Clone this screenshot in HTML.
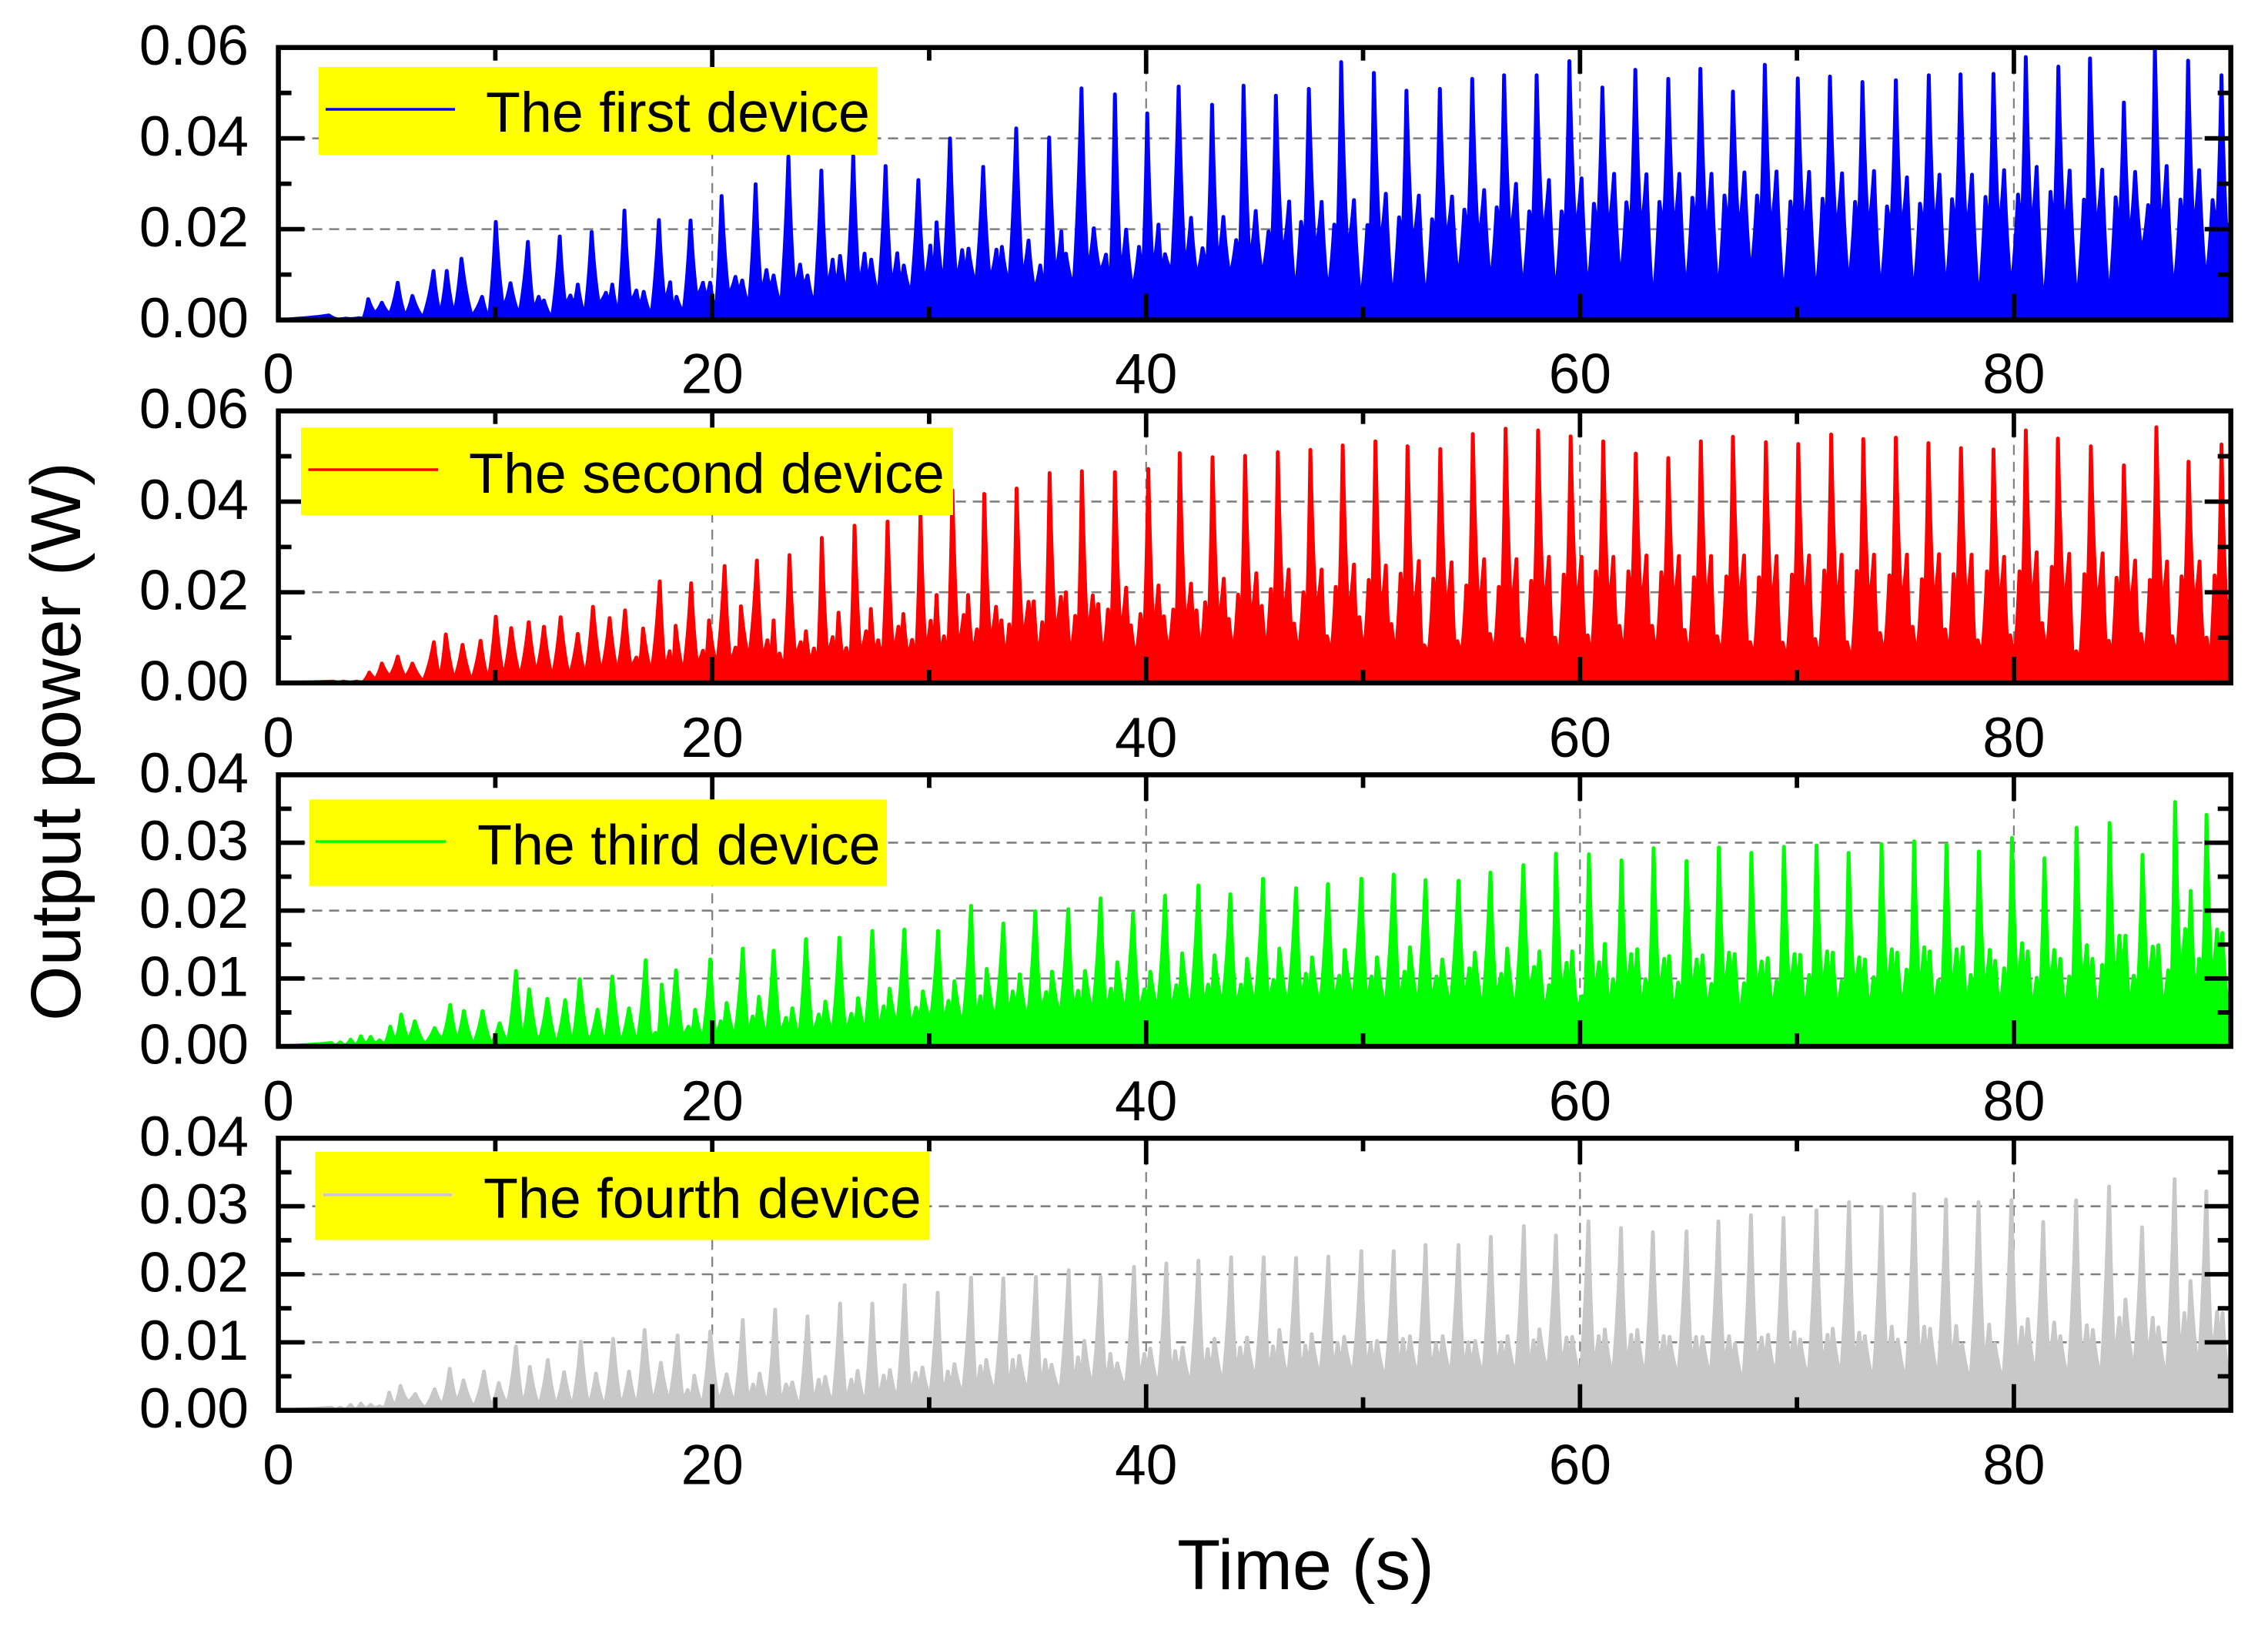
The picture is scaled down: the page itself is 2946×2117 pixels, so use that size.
<!DOCTYPE html>
<html lang="en">
<head>
<meta charset="utf-8">
<title>Output power of four devices over time</title>
<style>
html,body{margin:0;padding:0;background:#fff;}
svg{display:block;}
text{font-family:"Liberation Sans",Arial,sans-serif;fill:#000;}
</style>
</head>
<body>
<svg id="chart" xmlns="http://www.w3.org/2000/svg" width="2946" height="2117" viewBox="0 0 2946 2117">
  <rect x="0" y="0" width="2946" height="2117" fill="#ffffff"/>
  <defs id="clips"></defs>
  <g id="plots"></g>

  <g>
    <rect x="414" y="87" width="726" height="114" fill="#ffff00"/>
    <line x1="423" y1="142" x2="591" y2="142" stroke="#0000ff" stroke-width="3.6"/>
    <text x="631" y="171" font-size="73.6">The first device</text>
  </g>
  <g>
    <rect x="391" y="555.3" width="847" height="113.7" fill="#ffff00"/>
    <line x1="400.5" y1="610" x2="569" y2="610" stroke="#ff0000" stroke-width="3.6"/>
    <text x="609" y="640" font-size="73.6">The second device</text>
  </g>
  <g>
    <rect x="402" y="1038.3" width="750" height="112.4" fill="#ffff00"/>
    <line x1="410" y1="1093" x2="579" y2="1093" stroke="#00ff00" stroke-width="3.6"/>
    <text x="620" y="1122.7" font-size="73.6">The third device</text>
  </g>
  <g>
    <rect x="409.4" y="1496" width="797.6" height="114.4" fill="#ffff00"/>
    <line x1="420" y1="1551.8" x2="587" y2="1551.8" stroke="#c8c8c8" stroke-width="3.6"/>
    <text x="628" y="1581.7" font-size="73.6">The fourth device</text>
  </g>

  <text transform="translate(104 963) rotate(-90)" text-anchor="middle" font-size="92">Output power (W)</text>
  <text x="1696" y="2064" text-anchor="middle" font-size="92">Time (s)</text>
</svg>

<script>
// ---- tick values and labels ----
const timeTicks = [0, 20, 40, 60, 80];
const timeTickLabels = ['0', '20', '40', '60', '80'];
const timeMinorTicks = [10, 30, 50, 70];
const timeGridTicks = [20, 40, 60, 80];
const timeRange = [0, 90];

const highPowerTicks = [0, 0.02, 0.04, 0.06];
const highPowerLabels = ['0.00', '0.02', '0.04', '0.06'];
const highPowerMinor = [0.01, 0.03, 0.05];
const highPowerGrid = [0.02, 0.04];

const lowPowerTicks = [0, 0.01, 0.02, 0.03, 0.04];
const lowPowerLabels = ['0.00', '0.01', '0.02', '0.03', '0.04'];
const lowPowerMinor = [0.005, 0.015, 0.025, 0.035];
const lowPowerGrid = [0.01, 0.02, 0.03];

// ---- first device: peak times (s), peak power (W), trough power following each peak (W) ----
const firstTime = [
2.33,3.1,3.7,4.14,4.77,5.5,6.18,7.15,7.76,8.44,9.39,10.02,10.7,11.5,12.0,12.24,12.97,13.46,13.8,14.44,15.1,15.39,15.95,16.5,16.84,17.54,18.06,18.35,19.0,19.57,19.9,
20.43,21.07,21.38,22.0,22.5,22.83,23.51,24.05,24.39,25.03,25.55,25.89,
26.5,27.02,27.33,27.99,28.53,28.83,29.5,30.05,30.34,30.96,31.52,31.81,
32.49,33.1,33.35,34.01,34.58,35.12,35.53,36.09,36.3,37.02,37.59,38.15,
38.56,39.08,39.67,40.05,40.57,40.87,41.5,42.07,42.6,43.04,43.56,44.15,
44.49,45.05,45.64,45.98,46.59,47.14,47.5,48.09,48.67,48.99,49.58,50.2,
50.5,51.05,51.66,52.0,52.57,53.18,53.54,54.1,54.67,55.03,55.58,56.16,
56.5,57.05,57.66,58.0,58.57,59.15,59.51,60.07,60.64,61.03,61.57,62.14,
62.55,63.06,63.66,64.07,64.58,65.18,65.55,66.06,66.66,67.05,67.58,68.16,
68.52,69.06,69.7,70.04,70.56,71.18,71.52,72.08,72.68,73.02,73.55,74.15,
74.56,75.07,75.67,76.08,76.57,77.15,77.54,78.07,78.69,79.06,79.55,80.19,
80.55,81.05,81.69,82.05,82.57,83.23,83.51,84.07,84.69,85.07,85.59,86.19,
86.5,87.04,87.68,88.03,88.54,89.16,89.57];
const firstPeak = [
.001,.0003,.0004,.0046,.0038,.0082,.0053,.0108,.0108,.0135,.0051,.0216,.0081,.0172,.0051,.0043,.0184,.0054,.0078,.0194,.006,.0078,.0241,.0065,.0062,.022,.0083,.0051,.0219,.0082,.0082,
.0273,.0095,.0087,.0299,.011,.0098,.036,.0122,.0098,.0329,.0133,.0141,
.0361,.0146,.0133,.0339,.0147,.012,.0308,.0164,.0215,.04,.0154,.0157,
.0337,.0155,.0161,.0422,.0175,.012,.0402,.0195,.0146,.051,.0202,.0144,
.0497,.0199,.0161,.0455,.021,.0145,.0514,.0225,.0158,.0474,.0227,.0176,
.0516,.024,.0195,.0494,.0261,.0216,.0509,.026,.021,.0568,.0264,.0209,
.0544,.0278,.0226,.0505,.0274,.0222,.0509,.0272,.0243,.0531,.0286,.0248,
.0539,.03,.0239,.0539,.0308,.0239,.057,.0312,.0256,.0512,.0322,.0259,
.0551,.0321,.026,.0531,.0322,.0269,.0553,.0322,.0274,.0503,.0325,.0274,
.0562,.0327,.0261,.0532,.0326,.0267,.0536,.0323,.026,.0524,.0328,.025,
.0528,.0314,.0256,.0539,.032,.0266,.0541,.032,.0271,.0542,.033,.0276,
.0579,.0337,.0282,.0558,.0329,.0265,.0576,.0331,.027,.0479,.0326,.0253,
.0598,.0339,.0265,.0571,.033,.0264,.0539];
const firstTrough = [
.0001,.0002,.0003,.0015,.0012,.0008,.0004,.001,.001,.0008,.0002,.0025,.001,.0025,.0035,.0003,.0035,.0035,.0008,.0035,.004,.001,.004,.003,.0008,.004,.002,.0015,.005,.005,.0015,
.0054,.0065,.003,.006,.007,.003,.007,.0075,.003,.007,.0075,.0055,
.0075,.0085,.005,.0075,.008,.0055,.0075,.0095,.007,.0085,.0105,.0075,
.0085,.0105,.0075,.009,.0065,.007,.0095,.0115,.007,.0105,.0105,.0075,
.01,.0065,.0105,.0105,.0105,.0105,.011,.0095,.012,.012,.0095,.0135,
.0125,.0095,.0165,.0135,.0055,.017,.0145,.0055,.0175,.015,.0035,.019,
.016,.0037,.018,.016,.0037,.019,.017,.0085,.019,.017,.0075,.02,
.018,.006,.02,.018,.005,.02,.019,.0055,.0205,.019,.008,.0205,
.019,.003,.0205,.019,.0054,.0205,.019,.005,.0205,.019,.0093,.0205,
.019,.0043,.0205,.019,.0046,.0205,.019,.0068,.0205,.019,.0054,.0205,
.019,.0046,.0205,.019,.0054,.0205,.019,.0031,.0205,.019,.006,.0205,
.019,.002,.0205,.019,.0031,.0205,.019,.0037,.0205,.017,.0145,.0205,
.019,.0054,.0205,.019,.0077,.0205,.021];

// ---- second device ----
const secondTime = [
2.5,3.0,3.6,4.19,4.77,5.5,6.18,7.17,7.72,8.49,9.32,10.02,10.73,11.54,12.24,13.01,13.8,14.5,15.27,15.98,16.5,16.81,17.58,18.04,18.31,19.03,19.57,19.85,20.57,21.07,21.32,
22.06,22.54,22.83,23.1,23.56,24.08,24.32,24.69,25.05,25.55,25.82,26.18,
26.56,27.09,27.31,27.65,28.08,28.58,28.81,29.21,29.6,30.07,30.34,30.68,
31.07,31.59,31.79,32.2,32.54,33.08,33.33,33.69,34.03,34.58,34.82,35.21,
35.55,36.07,36.3,36.73,37.04,37.54,37.79,38.24,38.56,39.08,39.3,39.74,
40.1,40.57,40.82,41.25,41.55,42.07,42.32,42.72,43.06,43.58,43.81,44.24,
44.56,45.08,45.33,45.75,46.07,46.57,46.82,47.25,47.57,48.09,48.34,48.74,
49.06,49.58,49.83,50.26,50.57,51.05,51.3,51.73,52.05,52.57,52.82,53.24,
53.56,54.08,54.35,54.76,55.06,55.58,55.85,56.26,56.57,57.07,57.32,57.75,
58.07,58.57,58.85,59.25,59.57,60.07,60.35,60.73,61.07,61.54,61.82,62.23,
62.57,63.06,63.32,63.75,64.07,64.56,64.82,65.25,65.57,66.04,66.32,66.75,
67.05,67.56,67.84,68.25,68.57,69.06,69.34,69.77,70.06,70.56,70.84,71.26,
71.58,72.06,72.31,72.76,73.06,73.55,73.83,74.26,74.56,75.07,75.33,75.76,
76.06,76.55,76.83,77.22,77.56,78.05,78.33,78.76,79.06,79.55,79.83,80.26,
80.55,81.05,81.3,81.75,82.03,82.55,82.87,83.25,83.55,84.09,84.37,84.73,
85.07,85.59,85.86,86.27,86.57,87.06,87.3,87.73,88.05,88.56,88.88,89.25,
89.57];
const secondPeak = [
.0003,.0003,.0003,.0023,.0043,.0058,.0043,.009,.0107,.0084,.0093,.0146,.0121,.0134,.0124,.0145,.0108,.0168,.0143,.016,.0056,.012,.0224,.007,.0126,.022,.0071,.0138,.0258,.0078,.0169,
.027,.0094,.0138,.0065,.0282,.009,.0114,.0076,.032,.0101,.0155,.0077,
.0347,.0114,.0163,.0094,.0356,.0124,.0152,.0095,.0372,.0137,.0194,.0103,
.0425,.015,.0194,.0118,.0417,.0168,.0138,.0129,.0429,.0179,.018,.0134,
.0463,.019,.02,.0148,.0467,.0193,.0174,.0162,.0465,.021,.0127,.0152,
.0472,.0215,.0147,.0162,.0507,.0219,.016,.0178,.0498,.023,.0141,.0195,
.0501,.0242,.017,.0207,.0509,.025,.0131,.02,.0514,.025,.0103,.0212,
.0524,.0261,.0145,.0227,.0533,.0259,.013,.0241,.0522,.0269,.0083,.023,
.0516,.0266,.0092,.0215,.0549,.0273,.0108,.0212,.0561,.0273,.0097,.0225,
.0557,.0278,.01,.0239,.0544,.0278,.0105,.0246,.0533,.0278,.0126,.0246,
.0506,.0281,.0126,.0244,.0496,.028,.0117,.0233,.0533,.028,.0103,.0235,
.0543,.0281,.009,.0233,.0531,.028,.0089,.0239,.0527,.0281,.0097,.0248,
.0548,.0283,.009,.0247,.0538,.0283,.011,.0237,.0541,.0283,.0124,.0229,
.0529,.0284,.0118,.024,.0518,.0283,.0094,.0246,.0515,.0278,.0105,.0246,
.0557,.0288,.0132,.0256,.0539,.0285,.007,.024,.0522,.0286,.0093,.0232,
.048,.027,.0108,.0227,.0564,.0268,.0103,.0235,.0488,.0268,.01,.0237,
.0526];
const secondTrough = [
.0001,.0001,.0001,.0008,.0014,.0012,.0003,.0008,.0007,.0004,.0004,.0012,.0012,.002,.001,.0012,.0012,.002,.002,.0035,.0035,.002,.003,.002,.002,.004,.004,.0035,.0045,.005,.005,
.0055,.0055,.0035,.0035,.006,.0065,.0045,.004,.0062,.0055,.0055,.0045,
.006,.006,.0065,.0055,.0065,.0085,.006,.006,.0065,.0085,.006,.0065,
.0075,.0085,.0065,.0085,.0085,.0095,.0055,.0085,.0095,.0135,.0055,.0095,
.0105,.014,.0055,.011,.0105,.013,.0055,.011,.0105,.011,.0055,.0105,
.011,.0115,.0065,.012,.012,.0115,.0065,.0125,.0125,.0125,.0065,.013,
.013,.013,.0065,.014,.014,.0105,.0065,.014,.015,.009,.0065,.0155,
.0145,.011,.0065,.0165,.015,.0105,.0065,.017,.0145,.0075,.0065,.0175,
.015,.008,.0065,.0175,.0155,.009,.0065,.018,.016,.008,.007,.018,
.0165,.0085,.006,.0185,.0165,.009,.006,.0185,.0165,.01,.0065,.0185,
.0165,.01,.0065,.0185,.0165,.0095,.006,.0185,.0165,.009,.0065,.0185,
.0165,.008,.006,.0185,.0165,.008,.0055,.0185,.0165,.0085,.0055,.0185,
.0165,.008,.005,.0185,.0165,.009,.0065,.0185,.0165,.0095,.006,.0185,
.0165,.0095,.0065,.0185,.0165,.008,.0065,.0185,.0165,.009,.006,.0185,
.0165,.0105,.0065,.019,.0165,.0055,.0055,.0185,.0165,.0085,.0065,.018,
.0155,.009,.006,.0185,.0165,.009,.006,.0185,.0165,.0085,.0055,.0185,
.018];

// ---- third device ----
const thirdTime = [
2.44,2.85,3.33,3.8,4.25,4.66,5.16,5.66,6.29,7.2,7.92,8.55,9.41,10.2,10.95,11.56,12.4,13.22,13.89,14.71,15.39,16.16,16.93,17.38,17.67,18.33,18.9,19.21,19.91,20.39,20.66,
21.41,21.86,22.15,22.83,23.4,23.69,24.32,24.91,25.21,25.86,26.41,26.72,
27.38,27.9,28.17,28.85,29.39,29.71,30.41,30.89,31.16,31.93,32.36,32.65,
33.42,33.85,34.17,34.89,35.39,35.66,36.41,36.86,37.18,37.9,38.38,38.67,
39.4,39.92,40.19,40.87,41.39,41.66,42.41,42.86,43.15,43.88,44.37,44.65,
45.39,45.87,46.14,46.91,47.36,47.65,48.38,48.9,49.15,49.92,50.39,50.64,
51.41,51.91,52.16,52.88,53.38,53.65,54.4,54.9,55.15,55.87,56.37,56.64,
57.39,57.88,58.13,58.57,58.89,59.38,59.64,60.07,60.41,60.88,61.14,61.52,
61.91,62.36,62.64,63.02,63.39,63.88,64.11,64.52,64.91,65.38,65.65,66.06,
66.4,66.87,67.13,67.56,67.9,68.37,68.65,69.06,69.4,69.89,70.15,70.56,
70.9,71.39,71.65,72.06,72.38,72.87,73.13,73.53,73.9,74.37,74.62,75.05,
75.4,75.87,76.12,76.51,76.89,77.36,77.64,78.01,78.39,78.89,79.14,79.55,
79.91,80.38,80.64,81.05,81.41,81.86,82.14,82.55,82.89,83.36,83.62,84.07,
84.41,84.86,85.14,85.52,85.93,86.4,86.66,87.11,87.43,87.9,88.15,88.54,
88.88,89.37,89.61];
const thirdPeak = [
.0005,.0006,.001,.0015,.0014,.0009,.0029,.0047,.0037,.0027,.0061,.0052,.0052,.0034,.0111,.0084,.007,.0068,.0099,.0054,.0103,.0056,.0127,.002,.0091,.0112,.0029,.0054,.0128,.0037,.0064,
.0144,.0044,.0073,.0141,.0042,.0056,.0158,.0047,.0066,.016,.0048,.0071,
.017,.0059,.0085,.0172,.0057,.0081,.017,.0067,.0096,.0207,.0074,.0114,
.0181,.0081,.0106,.0199,.008,.011,.0202,.0082,.0111,.0218,.0085,.0124,
.0196,.0084,.011,.0222,.009,.0137,.0237,.0091,.0134,.0224,.0091,.0129,
.0247,.0098,.0144,.0233,.0107,.0131,.0239,.0104,.0142,.0247,.0103,.0131,
.0253,.011,.0146,.0245,.0103,.0128,.0244,.0115,.0138,.0256,.0107,.0144,
.0267,.0117,.014,.009,.0284,.0123,.014,.0073,.0283,.0124,.0151,.0099,
.0274,.0136,.0143,.0099,.0292,.0129,.0133,.0094,.0273,.0128,.0134,.0092,
.0293,.0138,.0136,.0093,.0285,.0125,.013,.0096,.0294,.0136,.0135,.0105,
.0296,.014,.0138,.0096,.0285,.0131,.0128,.0102,.0298,.0143,.0138,.0113,
.0302,.0146,.014,.0097,.0297,.0143,.0146,.0105,.0287,.0142,.0126,.0115,
.0307,.0152,.014,.0101,.0277,.0142,.0129,.0103,.0322,.0149,.0129,.012,
.0329,.0163,.0163,.0104,.0282,.0147,.0149,.0112,.036,.0173,.0229,.0129,
.0341,.0172,.0167];
const thirdTrough = [
.0001,.0001,.0001,.0003,.0004,.0003,.0007,.0009,.0003,.0009,.0008,.0002,.0003,.0005,.0008,.0002,.0002,.0002,.0003,.0003,.0003,.0004,.0012,.001,.0012,.0015,.0015,.0008,.0012,.0028,.0012,
.0018,.003,.0012,.002,.0022,.0012,.0018,.0026,.0015,.002,.0024,.002,
.0024,.0035,.0028,.003,.0035,.0035,.0035,.0045,.0028,.004,.0048,.0035,
.0045,.0055,.0035,.005,.0055,.0042,.0052,.0055,.0048,.0052,.0058,.0048,
.0052,.006,.0052,.0052,.0065,.0048,.0058,.0065,.0058,.0058,.0068,.0058,
.0062,.007,.0055,.0062,.0072,.0055,.0065,.0072,.0065,.0065,.0075,.0055,
.0065,.0078,.0058,.0068,.0078,.0058,.0068,.0078,.0052,.0072,.0078,.0048,
.0075,.0085,.005,.0075,.0075,.0085,.0052,.0075,.0078,.0085,.0055,.0078,
.0078,.0088,.0055,.0078,.0078,.0088,.005,.0078,.0078,.0088,.0055,.0078,
.0078,.009,.0042,.0078,.0078,.0085,.0055,.008,.008,.0088,.0052,.008,
.008,.009,.0052,.008,.008,.0088,.0052,.008,.008,.009,.0055,.008,
.008,.009,.0055,.008,.008,.009,.0055,.008,.008,.009,.0048,.0085,
.0085,.0095,.0055,.008,.008,.009,.0052,.0085,.0085,.009,.0045,.0085,
.0085,.0115,.0055,.0085,.0085,.0095,.0055,.0085,.01,.0115,.0075,.0095,
.0095,.0115,.0075];

// ---- fourth device ----
const fourthTime = [
2.44,2.85,3.33,3.8,4.25,4.66,5.11,5.63,6.31,7.2,7.9,8.53,9.48,10.16,10.95,11.59,12.42,13.17,13.94,14.64,15.43,16.16,16.88,17.63,18.4,18.87,19.17,19.91,20.66,21.41,21.88,22.18,
22.9,23.4,23.69,24.39,24.91,25.21,25.89,26.41,26.7,27.38,27.9,28.19,
28.87,29.37,29.69,30.39,30.86,31.16,31.93,32.36,32.63,33.42,33.85,34.15,
34.92,35.35,35.64,36.43,36.86,37.15,37.9,38.35,38.67,39.44,39.92,40.19,
40.93,41.34,41.68,42.41,42.84,43.15,43.92,44.33,44.65,45.42,45.85,46.14,
46.91,47.34,47.63,48.4,48.83,49.13,49.92,50.35,50.64,51.41,51.84,52.16,
52.88,53.36,53.67,54.4,54.85,55.17,55.89,56.37,56.66,57.41,57.86,58.13,
58.89,59.38,59.64,60.39,60.86,61.14,61.89,62.36,62.64,63.36,63.86,64.13,
64.91,65.35,65.65,66.38,66.87,67.15,67.88,68.37,68.67,69.38,69.87,70.15,
70.9,71.41,71.65,72.4,72.87,73.13,73.9,74.37,74.65,75.4,75.87,76.14,
76.87,77.34,77.62,78.37,78.86,79.12,79.89,80.36,80.64,81.35,81.86,82.14,
82.87,83.36,83.64,84.39,84.86,85.14,85.91,86.4,86.66,87.41,87.86,88.14,
88.87,89.37,89.62];
const fourthPeak = [
.0004,.0004,.0008,.001,.0008,.0006,.0026,.0036,.0024,.0031,.0061,.0044,.0057,.004,.0094,.0064,.0074,.0056,.0101,.0054,.0105,.0057,.0118,.007,.011,.003,.0051,.0116,.0053,.0133,.0038,.0054,
.0148,.0038,.0041,.0138,.0045,.0049,.0157,.0045,.0058,.0157,.0051,.0059,
.0184,.0055,.0063,.0173,.0057,.0068,.0195,.0065,.0074,.0194,.0074,.008,
.0196,.0074,.0067,.0206,.0078,.0102,.0196,.0083,.0069,.0211,.0083,.0091,
.0216,.0087,.0092,.022,.009,.0105,.0225,.0092,.0107,.0225,.0094,.0118,
.0224,.0095,.0112,.0226,.0099,.0108,.0234,.0098,.0102,.0234,.0105,.0109,
.0243,.0098,.0109,.0243,.01,.0102,.0255,.01,.0109,.0271,.0103,.0119,
.0257,.0107,.0108,.0278,.0109,.0119,.0268,.0111,.0118,.0262,.0109,.0108,
.0263,.0108,.0108,.0278,.0109,.0098,.0287,.0107,.0111,.0283,.0115,.0104,
.0294,.0111,.012,.0306,.0114,.0109,.0299,.0123,.0104,.0318,.0123,.012,
.031,.0124,.0097,.0306,.0126,.0098,.0309,.0122,.0134,.0277,.0129,.0109,
.0309,.0125,.0118,.0329,.0136,.0163,.0269,.0136,.0122,.034,.0143,.019,
.0322,.0145,.0143];
const fourthTrough = [
.0001,.0001,.0001,.0002,.0003,.0003,.0006,.0012,.0003,.0007,.0012,.0004,.0005,.0008,.0006,.0005,.0006,.0005,.0005,.0004,.0006,.0005,.0011,.0012,.0016,.0016,.0006,.0012,.0009,.0016,.0024,.0008,
.0012,.0028,.0004,.0013,.0026,.0008,.0014,.0026,.0008,.0018,.0032,.0015,
.0022,.0036,.0018,.0024,.0038,.0022,.0028,.004,.0024,.003,.0044,.0026,
.0034,.0048,.0025,.0038,.005,.0032,.004,.005,.0032,.0048,.006,.0034,
.0052,.0058,.0036,.0055,.006,.0038,.0055,.0065,.0045,.0055,.0065,.0045,
.0055,.0068,.0048,.0058,.0068,.005,.006,.0068,.0045,.006,.0068,.0048,
.006,.0068,.005,.006,.0068,.005,.0062,.007,.005,.0062,.0072,.0055,
.0065,.0072,.0045,.0065,.0075,.0048,.0065,.0075,.0048,.0068,.0075,.0048,
.0068,.0075,.0048,.0068,.0075,.0038,.0068,.0075,.0048,.0068,.0075,.0045,
.0068,.0075,.0048,.007,.0078,.0042,.007,.0078,.0042,.007,.008,.0045,
.007,.008,.004,.007,.008,.0042,.007,.0085,.0048,.0072,.0085,.0045,
.0072,.0085,.0045,.0075,.0095,.0055,.0075,.0085,.0045,.008,.0095,.0055,
.008,.0105,.0066];

// ---- panel layout (frame geometry, separate from the data) ----
const frameLeft = 361.6, frameRight = 2897.7;
const svgNS = 'http://www.w3.org/2000/svg';
const panels = [
  {key:'first',  color:'#0000ff', top:61.7,   bottom:415.6,  yMax:0.06, ticks:highPowerTicks, labels:highPowerLabels, minor:highPowerMinor, grid:highPowerGrid, time:firstTime,  peak:firstPeak,  trough:firstTrough,  labelGap:95},
  {key:'second', color:'#ff0000', top:533.7,  bottom:887,    yMax:0.06, ticks:highPowerTicks, labels:highPowerLabels, minor:highPowerMinor, grid:highPowerGrid, time:secondTime, peak:secondPeak, trough:secondTrough, labelGap:96},
  {key:'third',  color:'#00ff00', top:1006.3, bottom:1359,   yMax:0.04, ticks:lowPowerTicks,  labels:lowPowerLabels,  minor:lowPowerMinor,  grid:lowPowerGrid,  time:thirdTime,  peak:thirdPeak,  trough:thirdTrough,  labelGap:96},
  {key:'fourth', color:'#c8c8c8', top:1478.3, bottom:1831.7, yMax:0.04, ticks:lowPowerTicks,  labels:lowPowerLabels,  minor:lowPowerMinor,  grid:lowPowerGrid,  time:fourthTime, peak:fourthPeak, trough:fourthTrough, labelGap:96}
];

function xScale(t) {
  return frameLeft + (t - timeRange[0]) / (timeRange[1] - timeRange[0]) * (frameRight - frameLeft);
}
function yScale(panel, p) {
  return panel.bottom - p / panel.yMax * (panel.bottom - panel.top);
}
function make(parent, tag, name, attrs) {
  const el = document.createElementNS(svgNS, tag);
  
  
  for (const k in attrs) el.setAttribute(k, attrs[k]);
  parent.appendChild(el);
  return el;
}
// Builds the filled outline: rises to each peak, falls to the trough recorded after it.
function areaPath(panel) {
  const pts = [];
  pts.push({x: xScale(0), y: yScale(panel, 0), low: true});
  panel.time.forEach(function (t, i) {
    pts.push({x: xScale(t), y: yScale(panel, panel.peak[i]), low: false});
    const next = i + 1 < panel.time.length ? panel.time[i + 1] : timeRange[1];
    pts.push({x: xScale((t + next) / 2), y: yScale(panel, panel.trough[i]), low: true});
  });
  let d = 'M' + xScale(0).toFixed(1) + ' ' + panel.bottom + 'L' + pts[0].x.toFixed(1) + ' ' + pts[0].y.toFixed(1);
  for (let i = 1; i < pts.length; i++) {
    const a = pts[i - 1], b = pts[i];
    const lo = a.low ? a : b, hi = a.low ? b : a;
    const cx = lo.x + (hi.x - lo.x) * 0.62, cy = lo.y + (hi.y - lo.y) * 0.38;
    d += 'Q' + cx.toFixed(1) + ' ' + cy.toFixed(1) + ' ' + b.x.toFixed(1) + ' ' + b.y.toFixed(1);
  }
  const last = pts[pts.length - 1];
  d += 'L' + xScale(timeRange[1]).toFixed(1) + ' ' + last.y.toFixed(1);
  d += 'L' + xScale(timeRange[1]).toFixed(1) + ' ' + panel.bottom + 'Z';
  return d;
}

const plots = document.getElementById('plots');
const clips = document.getElementById('clips');

panels.forEach(function (panel) {
  const g = make(plots, 'g', 'panel-' + panel.key + '-device', {});

  // clip region
  const clip = document.createElementNS(svgNS, 'clipPath');
  clip.setAttribute('id', 'clip-' + panel.key);
  const clipRect = document.createElementNS(svgNS, 'rect');
  clipRect.setAttribute('x', frameLeft);
  clipRect.setAttribute('y', panel.top);
  clipRect.setAttribute('width', frameRight - frameLeft);
  clipRect.setAttribute('height', panel.bottom - panel.top);
  clip.appendChild(clipRect);
  clips.appendChild(clip);

  // grid
  const gridStyle = {stroke:'#808080', 'stroke-width':2.6, 'stroke-dasharray':'13 9', fill:'none'};
  panel.grid.forEach(function (p) {
    const y = yScale(panel, p);
    make(g, 'line', panel.key + '-y-gridline', Object.assign({x1:frameLeft, x2:frameRight, y1:y, y2:y}, gridStyle));
  });
  timeGridTicks.forEach(function (t) {
    const x = xScale(t);
    make(g, 'line', panel.key + '-x-gridline', Object.assign({x1:x, x2:x, y1:panel.top, y2:panel.bottom}, gridStyle, {'stroke-width':2.2}));
  });

  // series
  make(g, 'path', panel.key + '-device-power-area', {
    d: areaPath(panel), fill: panel.color, stroke: panel.color, 'stroke-width': 5,
    'stroke-linejoin': 'round', 'clip-path': 'url(#clip-' + panel.key + ')'
  });

  // ticks
  const tickW = 5.8;
  function xTick(t, len, kind) {
    const x = xScale(t);
    make(g, 'line', panel.key + '-x-' + kind + '-tick-top', {x1:x, x2:x, y1:panel.top, y2:panel.top + len, stroke:'#000', 'stroke-width':tickW});
    make(g, 'line', panel.key + '-x-' + kind + '-tick-bottom', {x1:x, x2:x, y1:panel.bottom, y2:panel.bottom - len, stroke:'#000', 'stroke-width':tickW});
  }
  function yTick(p, len, kind) {
    const y = yScale(panel, p);
    make(g, 'line', panel.key + '-y-' + kind + '-tick-left', {x1:frameLeft, x2:frameLeft + len, y1:y, y2:y, stroke:'#000', 'stroke-width':tickW});
    make(g, 'line', panel.key + '-y-' + kind + '-tick-right', {x1:frameRight, x2:frameRight - len, y1:y, y2:y, stroke:'#000', 'stroke-width':tickW});
  }
  timeTicks.forEach(function (t) { if (t > 0) xTick(t, 34, 'major'); });
  timeMinorTicks.forEach(function (t) { xTick(t, 17, 'minor'); });
  panel.ticks.forEach(function (p) { if (p > 0 && p < panel.yMax) yTick(p, 34, 'major'); });
  panel.minor.forEach(function (p) { yTick(p, 17, 'minor'); });

  // frame
  make(g, 'rect', panel.key + '-plot-frame', {
    x: frameLeft, y: panel.top, width: frameRight - frameLeft, height: panel.bottom - panel.top,
    fill: 'none', stroke: '#000', 'stroke-width': 6.5
  });

  // tick labels
  panel.ticks.forEach(function (p, i) {
    const el = make(g, 'text', panel.key + '-y-tick-label', {x:323, y:yScale(panel, p) + 22.5, 'text-anchor':'end', 'font-size':73});
    el.textContent = panel.labels[i];
  });
  timeTicks.forEach(function (t, i) {
    const el = make(g, 'text', panel.key + '-x-tick-label', {x:xScale(t), y:panel.bottom + panel.labelGap, 'text-anchor':'middle', 'font-size':73});
    el.textContent = timeTickLabels[i];
  });
});
</script>
</body>
</html>
